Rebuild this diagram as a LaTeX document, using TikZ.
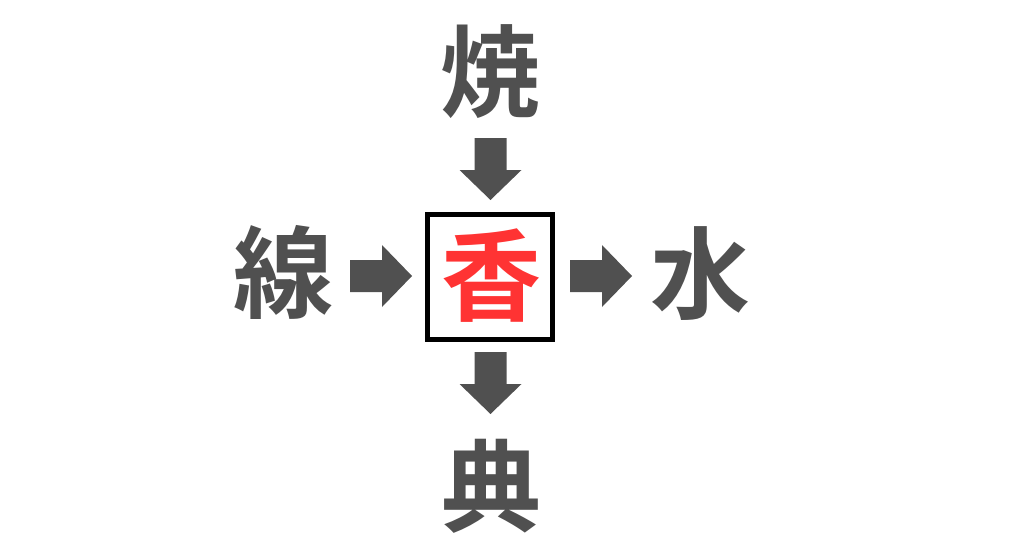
\documentclass[tikz,border=0pt]{standalone}
\usepackage{fontspec}
\newfontfamily\cjk{Noto Sans CJK JP Bold}
\definecolor{txtgray}{HTML}{505050}
\definecolor{txtred}{HTML}{FF3333}
\tikzset{
  kanji/.style={font=\cjk\fontsize{100}{100}\selectfont, text=txtgray, inner sep=0pt, anchor=center},
  blockarrow/.pic={\fill[txtgray] (0,-16) -- (32,-16) -- (32,-31) -- (62,0) -- (32,31) -- (32,16) -- (0,16) -- cycle;}
}
\begin{document}
\begin{tikzpicture}[x=1pt,y=-1pt]
\useasboundingbox (0,0) rectangle (1024,538);
\fill[white] (0,0) rectangle (1024,538);
\node[kanji] (top) at (490,72) {焼};
\node[kanji] (left) at (283,272) {線};
\node[kanji] (right) at (700,274) {水};
\node[kanji] (bottom) at (491,486) {典};
\node[draw=black, line width=5pt, minimum width=125pt, minimum height=125pt, inner sep=0pt] (box) at (490,277) {};
\node[kanji, text=txtred] (center) at (491,276) {香};
\pic at (350,276) {blockarrow};
\pic at (570,276) {blockarrow};
\pic[rotate=-90] at (490.5,138) {blockarrow};
\pic[rotate=-90] at (490.5,352) {blockarrow};
\end{tikzpicture}
\end{document}
